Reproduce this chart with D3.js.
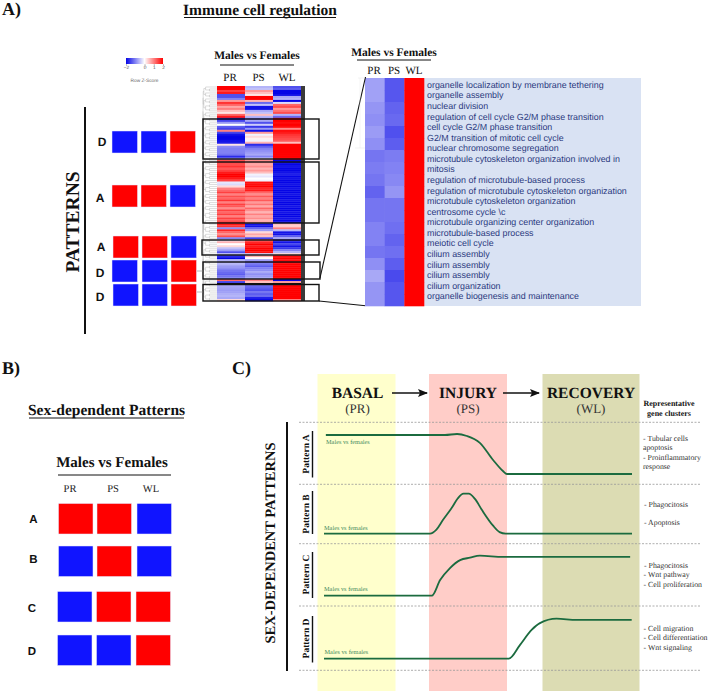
<!DOCTYPE html>
<html>
<head>
<meta charset="utf-8">
<script src="https://cdn.jsdelivr.net/npm/d3@7"></script>
<style>
  html, body { margin: 0; padding: 0; background: #fff; }
  svg { display: block; }
  text { font-family: "Liberation Serif", serif; text-rendering: geometricPrecision; }
  .sans { font-family: "Liberation Sans", Arial, sans-serif; }
</style>
</head>
<body>
<svg id="chart" width="708" height="691"></svg>
<script>
// --- data ---
const conditions = ['PR', 'PS', 'WL'];

// main heatmap, row z-scores, null = black NA row
const heatPR = [
  2, 2, 1.5, 1.8, -1.4, -1.4, -1, 0.8, 1.6, 1.2, 0.7, 1, 0.5, 0.2, 1.2, 1.8,
  -1.8, -1.5, -0.8, 0, -1.3, -1.5, 1, -1.5, -1.9, -2, -2, -1.9, -1.8, 0.2, -0.9, -1, -1, -1, -1.1, -1.7, -0.8,
  1.4, 1.5, 1.4, 1.6, 1.3, 1.5, 1.8, 2, 2, 1.8, 1.5, -0.2, -0.3, 0.3, 1, 1.2, 1.5, 1, 1.4, 1.2, 1.6, 1, 1.5, 1.3, 0.9, 1.5, 1.2, 1.5, 1, 1.5, 1.3, 1.7,
  1.8, 1.6, -0.9, 1.7, 1.2, 0.9, 1.4, -1,
  -0.3, 0.6, 0, 0.3, -0.5, -0.8, -1.4,
  -0.5, -1.7, -2, -0.6,
  -0.7, -0.6, -0.8, -0.9, -1.1, -1.2, -1.3, -1.1, -1,
  1.2, -1.5, null,
  -0.7, -0.75, -0.8, -0.75, -0.65, -0.6, -0.7, 0.3
];
const heatPS = [
  -0.6, -0.5, 0.8, 0.5, 0.2, 2, 2, 0.6, -1.2, -0.5, -1.9, -1.9, -0.7, -0.5, 0.5, -0.6,
  -1, -0.7, -1.4, -0.4, -1.6, -0.8, -1.9, 0.8, -0.1, 0.3, 0.1, -0.1, 0.6, -1.7, -1.3, -1, -0.9, -0.8, -0.7, -1, -0.2,
  0.9, 0.8, 0.7, 0.9, 0.6, 0.8, 0.5, -0.1, -0.2, 0, -0.1, 1.9, 1.9, 2, 1.7, 1.8, 1.2, 0.9, 1.3, 1, 1.3, 0.8, 1.1, 0.7, 1.2, 0.9, 0.6, 1, 0.7, 0.9, 0.6, 0.8,
  -1.9, -1.9, -1.2, -0.8, 0.3, 0.7, 0.5, -1.5,
  1.2, 1.7, 2, 1.8, 2, 2, 1.9,
  -0.4, 0.6, 0, -0.8,
  -1.2, -1.1, -1.3, -1, -0.9, -0.7, -0.9, -0.8, -0.7,
  1, 0.5, null,
  -1.2, -1.3, -1.4, -1.1, -1.3, -1.2, -1.8, -1.95
];
const heatWL = [
  -1.4, -1.3, -2, -2, -1.9, -0.7, -0.6, -2, -0.3, 1.2, 1.4, 0.8, 1.1, 1.4, -0.6, -1.2,
  2, 2, 1.9, 2, 1.9, 0.9, 1.9, 1.8, 1.6, 1.5, 1.4, 1.3, 0.5, 2, 2, 2, 2, 2, 2, 2, 2,
  -2, -1.9, -2, -1.9, -2, -2, -1.9, -1.8, -2, -1.9, -2, -2, -1.9, -2, -1.9, -2, -2, -1.9, -2, -2, -1.9, -2, -2, -1.9, -2, -2, -1.9, -2, -2, -1.9, -2, -2,
  0.5, 0.4, 1, -0.6, -1.9, -1.9, -1.3, -0.7,
  -1.7, -1.9, -1.5, -1.9, -1.6, -1, -0.6,
  0.3, 1.9, 2, 1.9,
  2, 2, 2, 2, 2, 2, 2, 2, 2,
  -2, 0.8, null,
  2, 2, 2, 2, 2, 2, 2, 1
];

// zoomed heatmap
const zoomPR = [-0.75, -0.75, -0.85, -0.9, -0.8, -0.9, -1.1, -1.05, -1.1, -1.25, -1.1, -1.1, -1, -1, -1.1, -0.9, -0.7, -0.85, -0.85];
const zoomPS = [-1.35, -1.35, -1.25, -1.2, -1.4, -1.3, -1.05, -1, -0.95, -0.85, -1.1, -1.1, -1.15, -1.25, -1.15, -1.3, -1.45, -1.35, -1.35];
const zoomWL = [2, 2, 2, 2, 2, 2, 2, 2, 2, 2, 2, 2, 2, 2, 2, 2, 2, 2, 2];

const goTerms = [
  'organelle localization by membrane tethering', 'organelle assembly', 'nuclear division',
  'regulation of cell cycle G2/M phase transition', 'cell cycle G2/M phase transition',
  'G2/M transition of mitotic cell cycle', 'nuclear chromosome segregation',
  'microtubule cytoskeleton organization involved in', 'mitosis',
  'regulation of microtubule-based process', 'regulation of microtubule cytoskeleton organization',
  'microtubule cytoskeleton organization', 'centrosome cycle \\c', 'microtubule organizing center organization',
  'microtubule-based process', 'meiotic cell cycle', 'cilium assembly', 'cilium assembly', 'cilium assembly',
  'cilium organization', 'organelle biogenesis and maintenance'
];

// sign of each condition in a pattern: 1 = up (red), -1 = down (blue)
const patterns = { A: [1, 1, -1], B: [-1, 1, -1], C: [-1, 1, 1], D: [-1, -1, 1] };
const clusterPatterns = ['D', 'A', 'A', 'D', 'D'];
const panelBPatterns = ['A', 'B', 'C', 'D'];

const keyTicks = [-2, 0, 1, 2];

// panel C, curves as [stage position 0-100, level 0-1]
const curveA = [[0.6, 0.975], [39.3, 0.975], [43.2, 1], [46.4, 0.95], [50.6, 0.78], [54.9, 0.35], [58.1, 0.075], [59.4, 0], [100, 0]];
const curveB = [[0, 0], [34.4, 0], [36.5, 0.1], [38.6, 0.34], [41.6, 0.66], [43.4, 0.88], [45.3, 1], [47, 1], [49, 0.87], [51.3, 0.59], [54.9, 0.2], [57, 0.04], [59, 0], [100, 0]];
const curveC = [[0, 0], [35, 0], [37.7, 0.39], [40.9, 0.69], [44.2, 0.89], [47.4, 0.95], [50.6, 1], [58.1, 0.97], [99.4, 0.97]];
const curveD = [[0, 0], [60, 0], [63.6, 0.34], [67.4, 0.72], [70.1, 0.89], [75.5, 1], [82, 0.97], [99.9, 0.97]];
const laneCurves = [curveA, curveB, curveC, curveD];
const laneNames = ['Pattern A', 'Pattern B', 'Pattern C', 'Pattern D'];

const geneClusters = [
  ['- Tubular cells', 'apoptosis', '- Proinflammatory', 'response'],
  ['- Phagocitosis'],
  ['- Apoptosis'],
  ['- Phagocitosis', '- Wnt pathway', '- Cell proliferation'],
  ['- Cell migration', '- Cell differentiation', '- Wnt signaling']
];

// --- helpers ---
const svg = d3.select('#chart');

const colorZ = d3.scaleLinear().domain([-2, 0, 2]).range(['#0505e6', '#ffffff', '#ff0000']).clamp(true);
const cellColor = (d) => (d === null ? '#000000' : colorZ(d));
const squareColor = (s) => (s > 0 ? '#ff0000' : '#1014ff');

function label(x, y, str, size, opts = {}) {
  return svg.append('text')
    .attr('x', x).attr('y', y)
    .attr('font-size', size)
    .attr('font-weight', opts.bold ? 'bold' : 'normal')
    .attr('text-anchor', opts.anchor || 'start')
    .attr('fill', opts.fill || '#111')
    .attr('class', opts.sans ? 'sans' : null)
    .text(str);
}

function rotLabel(x, y, str, size, bold = true) {
  return svg.append('text')
    .attr('transform', `translate(${x},${y}) rotate(-90)`)
    .attr('font-size', size)
    .attr('font-weight', bold ? 'bold' : 'normal')
    .attr('text-anchor', 'middle')
    .attr('fill', '#111')
    .text(str);
}

function rule(x1, y1, x2, y2, width = 1, color = '#111', dash = null) {
  return svg.append('line')
    .attr('x1', x1).attr('y1', y1).attr('x2', x2).attr('y2', y2)
    .attr('stroke', color).attr('stroke-width', width)
    .attr('stroke-dasharray', dash);
}

// draws one heatmap from three value columns
function heatmap(columns, x0, x1, y0, y1) {
  const x = d3.scaleBand().domain(conditions).range([x0, x1]);
  const y = d3.scaleBand().domain(d3.range(columns[0].length)).range([y0, y1]);
  columns.forEach((values, c) => {
    svg.append('g').selectAll('rect').data(values).join('rect')
      .attr('x', x(conditions[c]))
      .attr('y', (d, i) => y(i))
      .attr('width', x.bandwidth() + 0.3)
      .attr('height', y.bandwidth() + 0.3)
      .attr('fill', cellColor);
  });
}

// a row of three pattern squares
function squares(name, xs, y0, size, h) {
  const x = d3.scaleOrdinal().domain(conditions).range(xs);
  svg.append('g').selectAll('rect').data(patterns[name]).join('rect')
    .attr('x', (d, i) => x(conditions[i]))
    .attr('y', y0)
    .attr('width', size)
    .attr('height', h)
    .attr('fill', squareColor)
    .attr('stroke', '#e8e8ff')
    .attr('stroke-width', 0.5);
}

// --- panel A ---
label(2, 15, 'A)', 18, { bold: true });
label(260, 15, 'Immune cell regulation', 15.5, { bold: true, anchor: 'middle' });
rule(184, 17.5, 336, 17.5, 1);

// colour key
const keyX = d3.scaleLinear().domain([-2, 2]).range([126, 163]);
const grad = svg.append('defs').append('linearGradient').attr('id', 'key');
[-2, -1, 0, 1, 2].forEach((z) => {
  grad.append('stop').attr('offset', `${(z + 2) * 25}%`).attr('stop-color', colorZ(z));
});
svg.append('rect').attr('x', 126).attr('y', 58).attr('width', 37).attr('height', 6).attr('fill', 'url(#key)');
const keyAxis = svg.append('g').attr('transform', 'translate(0,64)')
  .call(d3.axisBottom(keyX).tickValues(keyTicks).tickFormat(d3.format('d')).tickSize(2).tickPadding(0));
keyAxis.select('.domain').remove();
keyAxis.selectAll('line').attr('stroke', '#666').attr('stroke-width', 0.4);
keyAxis.selectAll('text').attr('class', 'sans').attr('font-size', 4.8).attr('fill', '#555');
label(144.5, 82, 'Row Z-Score', 4.8, { sans: true, anchor: 'middle', fill: '#666' });

// main heatmap headers
label(257, 59, 'Males vs Females', 11.5, { bold: true, anchor: 'middle' });
rule(220, 65, 294, 65, 1);
const mainHeadX = [230, 258.5, 287];
conditions.forEach((c, i) => label(mainHeadX[i], 81, c, 11, { anchor: 'middle' }));

// dendrogram next to the main heatmap
function splitRows(a, b) {
  if (b - a <= 1) return { name: a };
  const m = (a + b) >> 1;
  return { children: [splitRows(a, m), splitRows(m, b)] };
}
const dendroRoot = d3.hierarchy(splitRows(0, heatPR.length));
d3.cluster().size([215, 1]).separation(() => 1)(dendroRoot);
const dendroX = d3.scalePow().exponent(5).domain([0, 1]).range([203, 217]);
svg.append('g').selectAll('path').data(dendroRoot.links()).join('path')
  .attr('d', (l) => `M${dendroX(l.source.y)},${86 + l.source.x}V${86 + l.target.x}H${dendroX(l.target.y)}`)
  .attr('fill', 'none').attr('stroke', '#aaa').attr('stroke-width', 0.4);

heatmap([heatPR, heatPS, heatWL], 217, 301, 86, 301);
svg.append('rect').attr('x', 301).attr('y', 86).attr('width', 4).attr('height', 215).attr('fill', '#3a3a3a');

// cluster boxes
const clusterBoxes = [[203, 119, 319, 159], [203, 162, 319, 223], [202, 240, 319, 255], [203, 262, 320, 279], [203, 284.5, 319, 301]];
svg.append('g').selectAll('rect').data(clusterBoxes).join('rect')
  .attr('x', (d) => d[0]).attr('y', (d) => d[1])
  .attr('width', (d) => d[2] - d[0]).attr('height', (d) => d[3] - d[1])
  .attr('fill', 'none').attr('stroke', '#111').attr('stroke-width', 1.4);

// pattern squares for each cluster
const clusterRows = [
  { y: 131, xs: [112, 141, 170], lx: 102, ly: 146 },
  { y: 185, xs: [112, 141, 170], lx: 100, ly: 202 },
  { y: 236, xs: [113, 142, 171], lx: 101, ly: 251 },
  { y: 260, xs: [112, 142, 171], lx: 100, ly: 277 },
  { y: 284, xs: [113, 142, 171], lx: 100, ly: 300.5 }
];
clusterPatterns.forEach((p, i) => {
  const r = clusterRows[i];
  squares(p, r.xs, r.y, 25.5, 22);
  label(r.lx, r.ly, p, 12, { bold: true, sans: true, anchor: 'middle' });
});
rule(197, 271, 203, 271, 0.6, '#888');
rule(197, 292, 203, 292, 0.6, '#888');

rotLabel(79, 222, 'PATTERNS', 19.5);
rule(85, 107, 85, 334, 2);

// zoomed heatmap, connector lines, terms
svg.append('rect').attr('x', 424).attr('y', 78).attr('width', 217).attr('height', 228).attr('fill', '#d9e2f3');
heatmap([zoomPR, zoomPS, zoomWL], 365, 424, 78, 306);
rule(320, 278, 365.5, 77, 1.1);
rule(319, 301, 365, 305.7, 1);
rule(355, 148, 365, 148, 0.4, '#ddd');
rule(358, 78, 365, 78, 0.4, '#ddd');
rule(360, 78, 360, 148, 0.4, '#e4e4e4');

label(394, 56, 'Males vs Females', 11.5, { bold: true, anchor: 'middle' });
rule(357, 60, 431, 60, 1);
const zoomHeadX = [374, 394, 414];
conditions.forEach((c, i) => label(zoomHeadX[i], 74, c, 11, { anchor: 'middle' }));

const termY = d3.scaleBand().domain(d3.range(goTerms.length)).range([79.5, 301.5]);
svg.append('g').selectAll('text').data(goTerms).join('text')
  .attr('class', 'sans')
  .attr('x', 427)
  .attr('y', (d, i) => termY(i) + termY.bandwidth() / 2)
  .attr('dy', '0.35em')
  .attr('font-size', 8.9)
  .attr('fill', '#2b3a80')
  .text((d) => d);

// --- panel B ---
label(2, 374, 'B)', 18, { bold: true });
label(106.5, 415, 'Sex-dependent Patterns', 15.5, { bold: true, anchor: 'middle' });
rule(29, 418, 184, 418, 1);
label(112, 467, 'Males vs Females', 15, { bold: true, anchor: 'middle' });
rule(58, 475, 171, 475, 1);
const panelBHeadX = [70, 113, 151];
conditions.forEach((c, i) => label(panelBHeadX[i], 492, c, 10.5, { anchor: 'middle', fill: '#222' }));

const panelBRows = [
  { y: 503.5, xs: [58.5, 97, 137], lx: 33.5, ly: 523 },
  { y: 546, xs: [58.5, 97, 137], lx: 33.5, ly: 563 },
  { y: 591.5, xs: [57.5, 96.5, 136], lx: 32, ly: 611.5 },
  { y: 635, xs: [57.5, 96.5, 136], lx: 32, ly: 654.5 }
];
panelBPatterns.forEach((p, i) => {
  const r = panelBRows[i];
  squares(p, r.xs, r.y, 34.5, 30.5);
  label(r.lx, r.ly, p, 11.5, { bold: true, sans: true, anchor: 'middle' });
});

// --- panel C ---
label(232, 374, 'C)', 18, { bold: true });

const bands = [
  { x0: 317.5, x1: 395.5, fill: '#ffffcc', name: 'BASAL', sub: '(PR)', cx: 357.5 },
  { x0: 429, x1: 507, fill: '#ffcdc8', name: 'INJURY', sub: '(PS)', cx: 468 },
  { x0: 542.5, x1: 639.5, fill: '#dcdcb3', name: 'RECOVERY', sub: '(WL)', cx: 591 }
];
svg.append('g').selectAll('rect').data(bands).join('rect')
  .attr('x', (d) => d.x0).attr('y', 374)
  .attr('width', (d) => d.x1 - d.x0).attr('height', 317)
  .attr('fill', (d) => d.fill);
bands.forEach((b) => {
  label(b.cx, 398, b.name, 15.5, { bold: true, anchor: 'middle' });
  label(b.cx, 413, b.sub, 13, { anchor: 'middle', fill: '#333' });
});

// arrows between the stages
svg.append('defs').append('marker').attr('id', 'head')
  .attr('viewBox', '0 0 10 8').attr('refX', 9).attr('refY', 4)
  .attr('markerWidth', 10).attr('markerHeight', 8).attr('markerUnits', 'userSpaceOnUse')
  .attr('orient', 'auto')
  .append('path').attr('d', 'M0,0L10,4L0,8L2,4Z').attr('fill', '#111');
rule(392, 393, 427, 393, 1.3).attr('marker-end', 'url(#head)');
rule(503, 393, 539, 393, 1.3).attr('marker-end', 'url(#head)');

label(669, 406, 'Representative', 8, { bold: true, anchor: 'middle' });
label(669, 415.5, 'gene clusters', 8, { bold: true, anchor: 'middle' });

// dotted lane separators
[422.3, 484.3, 543.7, 606, 670.3].forEach((y) => rule(299, y, 700, y, 0.8, '#999', '2,1.5'));

rotLabel(274.5, 543, 'SEX-DEPENDENT PATTERNS', 14.5);
rule(287, 422, 287, 671, 2);

// lanes: base of the curve and side label position
const lanes = [
  { base: 474, labelY: 454, bar: [431, 477.5], textY: 443.7, textX: 326 },
  { base: 533.7, labelY: 514, bar: [491, 534], textY: 529.7, textX: 324 },
  { base: 595.7, labelY: 574.5, bar: [552, 598], textY: 591, textX: 324 },
  { base: 658.7, labelY: 638.5, bar: [616, 662.5], textY: 654, textX: 324.5 }
];
const stageX = d3.scaleLinear().domain([0, 100]).range([324, 632]);
const levelY = d3.scaleLinear().domain([0, 1]).range([0, -40]);
const curveLine = d3.line().x((d) => stageX(d[0])).y((d) => levelY(d[1])).curve(d3.curveMonotoneX);

lanes.forEach((lane, i) => {
  rotLabel(309, lane.labelY, laneNames[i], 9.5);
  rule(312.5, lane.bar[0], 312.5, lane.bar[1], 1.4);
  svg.append('path')
    .attr('transform', `translate(0,${lane.base})`)
    .attr('d', curveLine(laneCurves[i]))
    .attr('fill', 'none').attr('stroke', '#1b6b3f').attr('stroke-width', 1.8);
  label(lane.textX, lane.textY, 'Males vs females', 6.3, { fill: '#3f8a5c' });
});

// representative gene clusters text
const clusterTextY = [[441, 450.3, 459.5, 468.7], [507], [525], [568, 577.3, 586.5], [631, 640.3, 649.5]];
const clusterTextX = [[643, 643, 643, 643], [644], [644], [644], [643.5]];
geneClusters.forEach((lines, i) => {
  lines.forEach((str, j) => label(clusterTextX[i][j] || 643.5, clusterTextY[i][j], str, 7.8, { fill: '#333' }));
});
</script>
</body>
</html>
